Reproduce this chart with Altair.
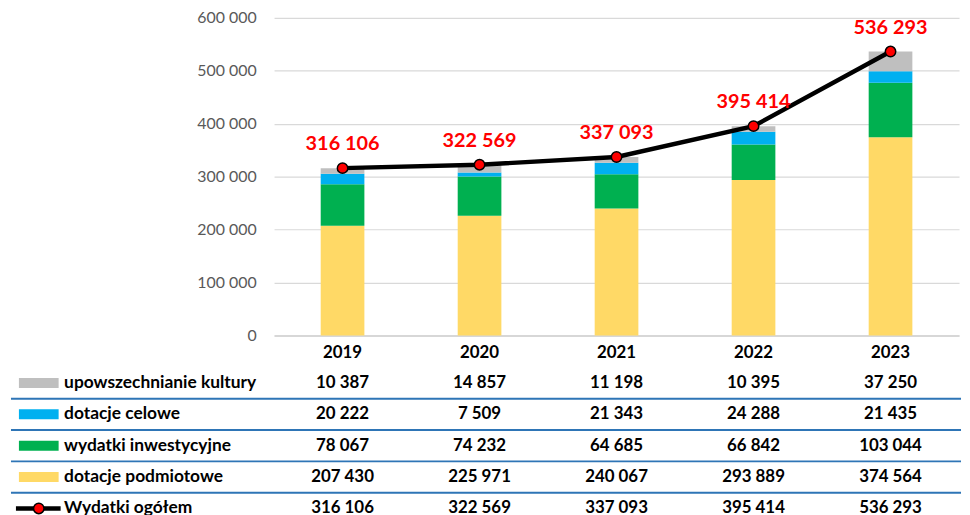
import altair as alt
import pandas as pd

FONT = "Lato"

years = ["2019", "2020", "2021", "2022", "2023"]
upowszechnianie = [10387, 14857, 11198, 10395, 37250]
celowe = [20222, 7509, 21343, 24288, 21435]
inwestycyjne = [78067, 74232, 64685, 66842, 103044]
podmiotowe = [207430, 225971, 240067, 293889, 374564]
ogolem = [316106, 322569, 337093, 395414, 536293]

series_names = ["dotacje podmiotowe", "wydatki inwestycyjne", "dotacje celowe", "upowszechnianie kultury"]
series_values = [podmiotowe, inwestycyjne, celowe, upowszechnianie]
series_colors = ["#FFD966", "#00B050", "#00B0F0", "#BFBFBF"]

row_names = ["upowszechnianie kultury", "dotacje celowe", "wydatki inwestycyjne", "dotacje podmiotowe", "Wydatki ogółem"]
row_values = [upowszechnianie, celowe, inwestycyjne, podmiotowe, ogolem]
y_ticks = [0, 100000, 200000, 300000, 400000, 500000, 600000]


def fmt(v):
    return f"{v:,}".replace(",", " ")


bars = pd.DataFrame([
    {"year": y, "series": s, "value": v, "order": i}
    for i, (s, vals) in enumerate(zip(series_names, series_values))
    for y, v in zip(years, vals)
])
totals = pd.DataFrame({"year": years, "value": ogolem, "label": [fmt(v) for v in ogolem]})
table = pd.DataFrame([
    {"row": r, "year": y, "label": fmt(v)}
    for r, vals in zip(row_names, row_values)
    for y, v in zip(years, vals)
])
swatches = pd.DataFrame({"row": row_names[:4], "series": row_names[:4]})
separators = pd.DataFrame({"row": row_names[1:]})
line_row = pd.DataFrame({"row": [row_names[4]]})

color_scale = alt.Scale(domain=series_names, range=series_colors)

x_top = alt.X(
    "year:N", sort=years,
    scale=alt.Scale(paddingInner=0.68, paddingOuter=0.34),
    axis=alt.Axis(title=None, labelAngle=0, labelFont=FONT, labelFontSize=17,
                  labelFontWeight="bold", labelColor="black", labelPadding=9,
                  ticks=False, domainColor="#D0D0D0", domainWidth=1.5),
)
y_top = alt.Y(
    "value:Q", stack="zero",
    scale=alt.Scale(domain=[0, 600000], nice=False),
    axis=alt.Axis(title=None, values=y_ticks,
                  labelExpr="replace(format(datum.value, ','), ',', ' ')",
                  labelFont=FONT, labelFontSize=16, labelColor="#595959",
                  labelPadding=18, ticks=False, domain=False,
                  gridColor="#D9D9D9", gridWidth=1.2),
)

bar_layer = alt.Chart(bars).mark_bar(size=44).encode(
    x=x_top, y=y_top,
    color=alt.Color("series:N", scale=color_scale, legend=None),
    order=alt.Order("order:Q"),
)
line_layer = alt.Chart(totals).mark_line(color="black", strokeWidth=4.5).encode(
    x=alt.X("year:N", sort=years), y=alt.Y("value:Q"))
point_layer = alt.Chart(totals).mark_point(
    filled=True, fill="red", stroke="black", strokeWidth=1.5, size=110, opacity=1
).encode(x=alt.X("year:N", sort=years), y=alt.Y("value:Q"))
label_layer = alt.Chart(totals).mark_text(
    color="red", font=FONT, fontSize=20, fontWeight="bold", dy=-24
).encode(x=alt.X("year:N", sort=years), y=alt.Y("value:Q"), text="label:N")

top = alt.layer(bar_layer, line_layer, point_layer, label_layer).properties(width=690, height=320)

y_bot = alt.Y(
    "row:N", sort=row_names,
    scale=alt.Scale(domain=row_names, paddingInner=0, paddingOuter=0),
    axis=alt.Axis(title=None, labelAlign="left", labelPadding=212, tickSize=0,
                  ticks=False, domain=False, labelFont=FONT, labelFontSize=17.5,
                  labelFontWeight="bold", labelColor="black", labelLimit=0),
)
x_bot = alt.X("year:N", sort=years, scale=alt.Scale(paddingInner=0, paddingOuter=0), axis=None)

table_text = alt.Chart(table).mark_text(
    font=FONT, fontSize=17, fontWeight="bold", color="black"
).encode(x=x_bot, y=y_bot, text="label:N")

sep_layer = alt.Chart(separators).mark_rule(color="#2E75B6", strokeWidth=2, yOffset=-15.8).encode(
    y=alt.Y("row:N", sort=row_names), x=alt.value(-265), x2=alt.value(692))

swatch_layer = alt.Chart(swatches).mark_rule(strokeWidth=10, strokeCap="butt").encode(
    y=alt.Y("row:N", sort=row_names), x=alt.value(-257), x2=alt.value(-217),
    color=alt.Color("series:N", scale=color_scale, legend=None))

line_sw = alt.Chart(line_row).mark_rule(color="black", strokeWidth=4.5).encode(
    y=alt.Y("row:N", sort=row_names), x=alt.value(-260), x2=alt.value(-215))
dot_sw = alt.Chart(line_row).mark_point(
    filled=True, fill="red", stroke="black", strokeWidth=1.5, size=110, opacity=1
).encode(y=alt.Y("row:N", sort=row_names), x=alt.value(-237))

bottom = alt.layer(sep_layer, table_text, swatch_layer, line_sw, dot_sw).properties(
    width=690, height=158)

chart = alt.vconcat(top, bottom, spacing=7).properties(
    padding={"left": 2, "top": 0, "right": 0, "bottom": 0}
).configure_view(stroke=None)

chart.save("out.html", embed_options={"renderer": "svg", "actions": False})
